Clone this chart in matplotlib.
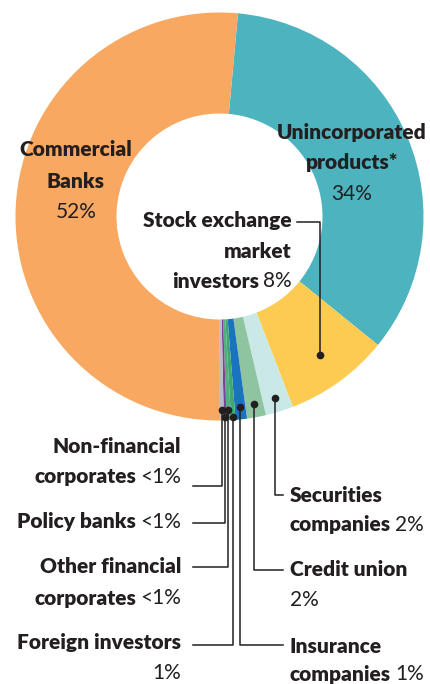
import matplotlib.pyplot as plt
import numpy as np

# Shares (clockwise from the top, starting with the teal slice)
labels = ["Unincorporated products*", "Stock exchange market investors",
          "Securities companies", "Credit union", "Insurance companies",
          "Foreign investors", "Other financial corporates", "Policy banks",
          "Non-financial corporates", "Commercial Banks"]
shares = [34.4, 8.3, 2.2, 1.5, 0.9, 0.35, 0.35, 0.22, 0.3, 51.48]
pct_text = ["34%", "8%", "2%", "2%", "1%", "1%", "<1%", "<1%", "<1%", "52%"]
colors = ["#4DB3BF", "#FECB52", "#C9E8E6", "#8FC4A0", "#1A73BE",
          "#3FA86E", "#4FB07C", "#7E3F98", "#B9BCC8", "#F8A860"]

W, H = 431, 684
cx, cy = 219.5, H - 216.5
R, r_in = 204, 103
ink = "#231F20"
fs = 15
bw = "heavy"
plt.rcParams["font.family"] = ["Lato", "DejaVu Sans"]

fig = plt.figure(figsize=(W / 100, H / 100), dpi=100)
ax = fig.add_axes([0, 0, 1, 1])
wedges, _ = ax.pie(shares, colors=colors, startangle=90 - 5.2, counterclock=False,
                   radius=R, center=(cx, cy),
                   wedgeprops=dict(width=R - r_in, edgecolor="none"))
ax.set_xlim(0, W)
ax.set_ylim(0, H)
ax.set_aspect("equal")
ax.axis("off")

renderer = fig.canvas.get_renderer()


def Y(y):
    return H - y


def mixed(x, y, bold, light, ha="left"):
    # bold name followed by a regular-weight percentage on one line
    if ha == "left":
        t = ax.text(x, Y(y), bold, fontsize=fs, fontweight=bw, color=ink,
                    ha="left", va="center")
        if light:
            w = t.get_window_extent(renderer).width
            ax.text(x + w + 4, Y(y), light, fontsize=fs, fontweight="normal",
                    color=ink, ha="left", va="center")
    else:
        xr = x
        if light:
            t = ax.text(x, Y(y), light, fontsize=fs, fontweight="normal", color=ink,
                        ha="right", va="center")
            xr = x - t.get_window_extent(renderer).width - 4
        ax.text(xr, Y(y), bold, fontsize=fs, fontweight=bw, color=ink,
                ha="right", va="center")


def bold_line(x, y, s, ha):
    ax.text(x, Y(y), s, fontsize=fs, fontweight=bw, color=ink, ha=ha, va="center")


def light_line(x, y, s, ha):
    ax.text(x, Y(y), s, fontsize=fs, fontweight="normal", color=ink, ha=ha, va="center")


# dots on the ring, computed from the wedge angles
def dot(i, rad):
    w = wedges[i]
    a = np.deg2rad((w.theta1 + w.theta2) / 2)
    x, y = cx + rad * np.cos(a), cy + rad * np.sin(a)
    ax.plot(x, y, "o", color=ink, markersize=4.5, zorder=5)
    return x, y


lw = 1.1
# stock exchange leader
x, y = dot(1, 171)
ax.plot([x, x, 297], [y, Y(221.7), Y(221.7)], color=ink, lw=lw)

# small slices: (index, dot radius, elbow y, end x)
leaders = [(8, 194, 485.7, 193), (7, 201, 522.7, 193), (6, 193.7, 566.7, 193),
           (5, 200.6, 645, 193), (4, 191.8, 645, 283), (3, 190.9, 570, 283),
           (2, 190.2, 495, 283)]
for i, rad, ye, xe in leaders:
    x, y = dot(i, rad)
    ax.plot([x, x, xe], [y, Y(ye), Y(ye)], color=ink, lw=lw)

# big labels
bold_line(76, 150, "Commercial", "center")
bold_line(76, 181, "Banks", "center")
light_line(76, 212, pct_text[9], "center")

bold_line(352, 133, "Unincorporated", "center")
bold_line(352, 163, "products*", "center")
light_line(352, 194, pct_text[0], "center")

mixed(292, 221, "Stock exchange", "", ha="right")
mixed(292, 251, "market", "", ha="right")
mixed(292, 281, "investors", pct_text[1], ha="right")

# left column
mixed(181, 446.7, "Non-financial", "", ha="right")
mixed(181, 477, "corporates", pct_text[8], ha="right")
mixed(181, 521.7, "Policy banks", pct_text[7], ha="right")
mixed(181, 566.7, "Other financial", "", ha="right")
mixed(181, 598, "corporates", pct_text[6], ha="right")
mixed(181, 642.7, "Foreign investors", "", ha="right")
light_line(181, 673, pct_text[5], "right")

# right column
mixed(290, 495, "Securities", "")
mixed(290, 525, "companies", pct_text[2])
mixed(290, 570, "Credit union", "")
light_line(290, 600, pct_text[3], "left")
mixed(290, 646.7, "Insurance", "")
mixed(290, 674, "companies", pct_text[4])

fig.savefig("out.png", dpi=100)
